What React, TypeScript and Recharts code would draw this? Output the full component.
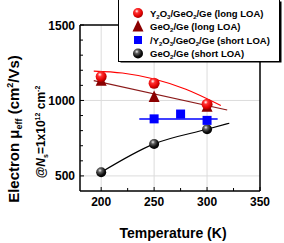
import React from 'react';
import { ComposedChart, Line, Scatter, XAxis, YAxis, ReferenceLine } from 'recharts';

const FONT = '"Liberation Sans", Arial, sans-serif';

// axis ticks
const xTicks = [200, 225, 250, 275, 300, 325, 350];
const xLabels = [200, 250, 300, 350];
const yTicks = [500, 600, 700, 800, 900, 1000, 1100, 1200, 1300, 1400, 1500];
const yLabels = [500, 1000, 1500];
const xGrid = [200, 250, 300];
const yGrid = [500, 1000];

// measured points
const temps = [200, 250, 300];
const y2o3LongValues = [1158, 1114, 975];
const geo2LongValues = [1130, 1023, 958];
const y2o3ShortTemps = [250, 275, 300];
const y2o3ShortValues = [878, 910, 868];
const geo2ShortValues = [524, 712, 809];

// fit curves
const redFitT = [193, 220, 250, 280, 313];
const redFitV = [1195, 1182, 1142, 1074, 966];
const darkFitT = [193, 319];
const darkFitV = [1131, 937];
const blueFitT = [236, 310];
const blueFitV = [877, 877];
const blackFitT = [200, 250, 300, 321];
const blackFitV = [524, 712, 809, 849];

const zip = (ts: number[], vs: number[]) => ts.map((t, i) => ({ t, v: vs[i] }));

const redPts = zip(temps, y2o3LongValues);
const darkPts = zip(temps, geo2LongValues);
const bluePts = zip(y2o3ShortTemps, y2o3ShortValues);
const blackPts = zip(temps, geo2ShortValues);
const redFit = zip(redFitT, redFitV);
const darkFit = zip(darkFitT, darkFitV);
const blueFit = zip(blueFitT, blueFitV);
const blackFit = zip(blackFitT, blackFitV);

const Sphere = ({ cx, cy, r, kind }: any) => {
  const id = kind === 'red' ? 'gradRed' : 'gradBlack';
  return (
    <g>
      <defs>
        <radialGradient id="gradRed" cx="38%" cy="32%" r="68%">
          <stop offset="0%" stopColor="#ffffff" />
          <stop offset="28%" stopColor="#ff3030" />
          <stop offset="75%" stopColor="#e00000" />
          <stop offset="100%" stopColor="#a00000" />
        </radialGradient>
        <radialGradient id="gradBlack" cx="38%" cy="32%" r="68%">
          <stop offset="0%" stopColor="#f0f0f0" />
          <stop offset="28%" stopColor="#606060" />
          <stop offset="70%" stopColor="#101010" />
          <stop offset="100%" stopColor="#000000" />
        </radialGradient>
      </defs>
      <circle cx={cx} cy={cy} r={r} fill={`url(#${id})`} />
    </g>
  );
};

const Triangle = ({ cx, cy, s }: any) => (
  <polygon
    points={`${cx},${cy - s * 0.6} ${cx - s / 2},${cy + s * 0.45} ${cx + s / 2},${cy + s * 0.45}`}
    fill="#8b0000"
  />
);

const Square = ({ cx, cy, s }: any) => (
  <rect x={cx - s / 2} y={cy - s / 2} width={s} height={s} fill="#0000ff" />
);

const LeftTick = (props: any) => {
  const { x, y, payload } = props;
  const major = yLabels.includes(payload.value);
  return (
    <g>
      <line x1={x} x2={x + (major ? 4 : 3)} y1={y} y2={y} stroke="#000" strokeWidth={1} />
      {major && (
        <text x={x - 5} y={y + 4.5} textAnchor="end" fontSize={12} fontWeight="bold" fontFamily={FONT} fill="#000">
          {payload.value}
        </text>
      )}
    </g>
  );
};

const RightTick = (props: any) => {
  const { x, y, payload } = props;
  const major = yLabels.includes(payload.value);
  return <line x1={x} x2={x - (major ? 4 : 3)} y1={y} y2={y} stroke="#000" strokeWidth={1} />;
};

const BottomTick = (props: any) => {
  const { x, y, payload } = props;
  const major = xLabels.includes(payload.value);
  return (
    <g>
      <line x1={x} x2={x} y1={y} y2={y - (major ? 4 : 3)} stroke="#000" strokeWidth={1} />
      {major && (
        <text x={x} y={y + 15} textAnchor="middle" fontSize={12} fontWeight="bold" fontFamily={FONT} fill="#000">
          {payload.value}
        </text>
      )}
    </g>
  );
};

const legendItems = [
  { kind: 'red', parts: ['Y', '2', 'O', '3', '/GeO', '2', '/Ge (long LOA)'] },
  { kind: 'tri', parts: ['GeO', '2', '/Ge (long LOA)'] },
  { kind: 'sq', parts: ['/Y', '2', 'O', '3', '/GeO', '2', '/Ge (short LOA)'] },
  { kind: 'black', parts: ['GeO', '2', '/Ge (short LOA)'] },
];

const LegendRow = ({ item, y }: any) => {
  const mx = 138;
  let marker;
  if (item.kind === 'red') marker = <Sphere cx={mx} cy={y} r={5} kind="red" />;
  else if (item.kind === 'black') marker = <Sphere cx={mx} cy={y} r={5} kind="black" />;
  else if (item.kind === 'tri') marker = <Triangle cx={mx} cy={y} s={11} />;
  else marker = <Square cx={mx} cy={y} s={8} />;
  return (
    <g>
      {marker}
      <text x={150} y={y + 3.5} fontSize={9.5} fontWeight="bold" fontFamily={FONT} fill="#000">
        {item.parts.map((p: string, i: number) =>
          i % 2 === 1 ? (
            <tspan key={i} fontSize={6} dy={2}>{p}</tspan>
          ) : (
            <tspan key={i} dy={i === 0 ? 0 : -2}>{p}</tspan>
          )
        )}
      </text>
    </g>
  );
};

export default function App() {
  return (
    <div style={{ position: 'absolute', left: 0, top: 0, width: 284, height: 243, background: '#fff' }}>
      <ComposedChart
        width={284}
        height={243}
        margin={{ top: 24, right: 23, bottom: 22, left: 50 }}
        style={{ position: 'absolute', left: 0, top: 0 }}
      >
        <XAxis
          xAxisId="b"
          dataKey="t"
          type="number"
          domain={[180, 350]}
          ticks={xTicks}
          interval={0}
          height={30}
          tickSize={0}
          tickMargin={0}
          tickLine={false}
          tick={<BottomTick />}
          axisLine={{ stroke: '#000', strokeWidth: 1.5 }}
          allowDataOverflow
        />
        <XAxis
          xAxisId="top"
          orientation="top"
          dataKey="t"
          type="number"
          domain={[180, 350]}
          height={1}
          tick={false}
          tickLine={false}
          axisLine={{ stroke: '#000', strokeWidth: 1.5 }}
        />
        <YAxis
          yAxisId="l"
          type="number"
          domain={[400, 1500]}
          ticks={yTicks}
          interval={0}
          width={30}
          tickSize={0}
          tickMargin={0}
          tickLine={false}
          tick={<LeftTick />}
          axisLine={{ stroke: '#000', strokeWidth: 1.5 }}
          allowDataOverflow
        />
        <YAxis
          yAxisId="r"
          orientation="right"
          type="number"
          domain={[400, 1500]}
          ticks={yTicks}
          interval={0}
          width={1}
          tickSize={0}
          tickMargin={0}
          tickLine={false}
          tick={<RightTick />}
          axisLine={{ stroke: '#000', strokeWidth: 1.5 }}
        />
        {xGrid.map((g) => (
          <ReferenceLine key={'x' + g} x={g} xAxisId="b" yAxisId="l" stroke="#dcdcdc" strokeWidth={1} />
        ))}
        {yGrid.map((g) => (
          <ReferenceLine key={'y' + g} y={g} xAxisId="b" yAxisId="l" stroke="#dcdcdc" strokeWidth={1} />
        ))}
        <Line data={blackFit} dataKey="v" xAxisId="b" yAxisId="l" type="monotone" stroke="#000" strokeWidth={1.2} dot={false} isAnimationActive={false} />
        <Line data={blueFit} dataKey="v" xAxisId="b" yAxisId="l" type="linear" stroke="#0000ff" strokeWidth={1.5} dot={false} isAnimationActive={false} />
        <Line data={darkFit} dataKey="v" xAxisId="b" yAxisId="l" type="linear" stroke="#8b1a1a" strokeWidth={1.2} dot={false} isAnimationActive={false} />
        <Line data={redFit} dataKey="v" xAxisId="b" yAxisId="l" type="monotone" stroke="#ff0000" strokeWidth={1.2} dot={false} isAnimationActive={false} />
        <Scatter data={blackPts} dataKey="v" xAxisId="b" yAxisId="l" isAnimationActive={false} shape={(p: any) => <Sphere cx={p.cx} cy={p.cy} r={5} kind="black" />} />
        <Scatter data={bluePts} dataKey="v" xAxisId="b" yAxisId="l" isAnimationActive={false} shape={(p: any) => <Square cx={p.cx} cy={p.cy} s={9} />} />
        <Scatter data={darkPts} dataKey="v" xAxisId="b" yAxisId="l" isAnimationActive={false} shape={(p: any) => <Triangle cx={p.cx} cy={p.cy} s={11} />} />
        <Scatter data={redPts} dataKey="v" xAxisId="b" yAxisId="l" isAnimationActive={false} shape={(p: any) => <Sphere cx={p.cx} cy={p.cy} r={5.5} kind="red" />} />
      </ComposedChart>
      <svg width={284} height={243} style={{ position: 'absolute', left: 0, top: 0, pointerEvents: 'none' }}>
        <rect x={120.5} y={1.5} width={161} height={61} fill="#000" />
        <rect x={118.5} y={-0.5} width={161} height={62} fill="#fff" stroke="#000" strokeWidth={1} />
        {legendItems.map((it, i) => (
          <LegendRow key={i} item={it} y={13 + i * 13.5} />
        ))}
        <text x={173} y={238} textAnchor="middle" fontSize={14} fontWeight="bold" fontFamily={FONT} fill="#000">
          Temperature (K)
        </text>
        <text transform="translate(19,129) rotate(-90)" textAnchor="middle" fontSize={15} fontWeight="bold" fontFamily={FONT} fill="#000">
          Electron μ<tspan fontSize={9} dy={3}>eff</tspan>
          <tspan dy={-3}> (cm</tspan>
          <tspan fontSize={9} dy={-6}>2</tspan>
          <tspan dy={6}>/Vs)</tspan>
        </text>
        <text transform="translate(45,132) rotate(-90)" textAnchor="middle" fontSize={12} fontWeight="bold" fontFamily={FONT} fill="#000">
          @<tspan fontStyle="italic">N</tspan>
          <tspan fontSize={7} dy={2.5}>s</tspan>
          <tspan dy={-2.5}>=1x10</tspan>
          <tspan fontSize={7} dy={-5}>12</tspan>
          <tspan dy={5}> cm</tspan>
          <tspan fontSize={7} dy={-5}>-2</tspan>
        </text>
      </svg>
    </div>
  );
}
